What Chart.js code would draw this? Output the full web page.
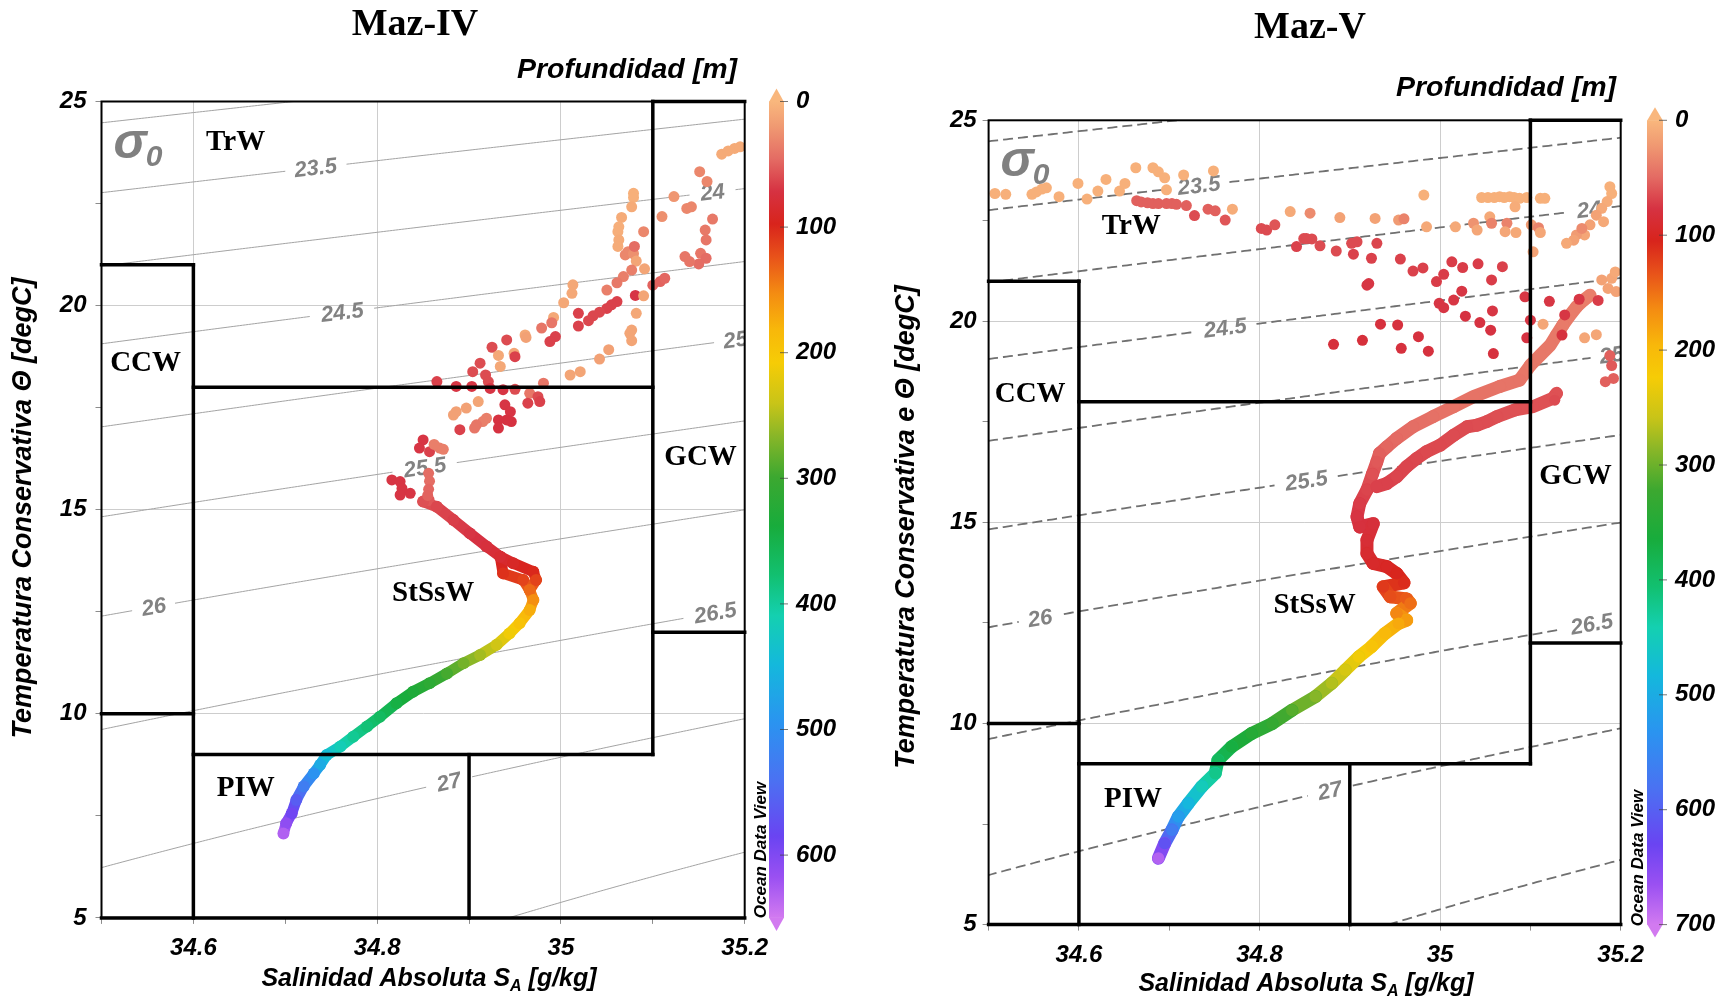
<!DOCTYPE html>
<html>
<head>
<meta charset="utf-8">
<title>Diagramas T-S Maz-IV / Maz-V</title>
<script src="https://cdn.jsdelivr.net/npm/chart.js@4.4.0/dist/chart.umd.min.js"></script>
<style>
  html, body { margin: 0; padding: 0; background: #fff; }
  #wrap { position: relative; width: 1730px; height: 1000px; }
  .panel { position: absolute; top: 0; width: 865px; height: 1000px; }
  .panel canvas { width: 865px; height: 1000px; }
</style>
</head>
<body>
<div id="wrap">
  <div class="panel" style="left:0"><canvas id="maz4" width="865" height="1000"></canvas></div>
  <div class="panel" style="left:865px"><canvas id="maz5" width="865" height="1000"></canvas></div>
</div>
<script>
// ---- data: [SA g/kg, Theta degC, depth m] ----

// Maz-IV: scattered surface samples
const MAZ4_SCATTER = [
  [35.175, 23.71, 8], [35.182, 23.79, 8], [35.189, 23.85, 8], [35.195, 23.89, 8],
  [35.151, 23.28, 30], [35.159, 23.04, 30], [35.123, 22.67, 22], [35.137, 22.38, 30],
  [35.142, 22.42, 30], [35.110, 22.18, 25], [35.165, 22.12, 38], [35.157, 21.85, 38],
  [35.158, 21.61, 40], [35.152, 21.28, 40], [35.158, 21.16, 45], [35.150, 21.02, 45],
  [35.135, 21.20, 40], [35.140, 21.08, 40], [35.100, 20.50, 50], [35.108, 20.59, 50],
  [35.113, 20.67, 48],
  [35.079, 22.75, 5], [35.079, 22.65, 5], [35.077, 22.42, 8], [35.066, 22.16, 8],
  [35.063, 21.93, 6], [35.062, 21.81, 6], [35.063, 21.61, 8], [35.062, 21.45, 8],
  [35.090, 21.81, 30], [35.070, 21.24, 30], [35.073, 21.32, 30], [35.079, 21.27, 25],
  [35.080, 21.45, 45], [35.082, 21.09, 12], [35.091, 20.90, 12], [35.077, 20.87, 35],
  [35.068, 20.71, 35], [35.061, 20.56, 38], [35.050, 20.38, 35], [35.081, 20.25, 70],
  [35.090, 20.24, 12],
  [35.061, 20.10, 65], [35.055, 20.02, 65], [35.050, 19.93, 65], [35.042, 19.84, 62],
  [35.035, 19.75, 62], [35.030, 19.63, 62], [35.019, 19.81, 65], [35.019, 19.50, 65],
  [35.082, 19.81, 10], [35.077, 19.40, 12], [35.075, 19.32, 12], [35.077, 19.14, 12],
  [35.052, 18.92, 15], [35.042, 18.69, 15], [35.021, 18.38, 12], [35.010, 18.30, 12],
  [35.013, 20.51, 10], [35.012, 20.30, 10], [35.003, 20.07, 10], [34.992, 19.71, 10],
  [34.990, 19.58, 40], [34.979, 19.45, 40], [34.994, 19.24, 65], [34.988, 19.12, 65],
  [34.961, 19.28, 10], [34.962, 19.22, 15], [34.941, 19.16, 60], [34.925, 18.98, 60],
  [34.949, 18.83, 12], [34.950, 18.75, 65], [34.932, 18.78, 10], [34.934, 18.51, 10],
  [34.912, 18.59, 60], [34.918, 18.30, 60], [34.921, 18.14, 60], [34.904, 18.38, 60],
  [34.865, 18.14, 65],
  [34.886, 18.02, 70], [34.903, 18.02, 70], [34.923, 17.97, 70], [34.937, 17.94, 70],
  [34.950, 17.95, 60], [34.966, 17.85, 40], [34.975, 17.77, 60], [34.977, 17.65, 65],
  [34.981, 18.10, 40], [34.964, 17.61, 65],
  [34.910, 17.65, 12], [34.897, 17.49, 15], [34.886, 17.40, 15], [34.883, 17.32, 15],
  [34.890, 16.96, 65],
  [34.939, 17.57, 70], [34.945, 17.40, 70], [34.946, 17.16, 72], [34.941, 17.20, 72],
  [34.932, 17.20, 72], [34.932, 17.00, 72],
  [34.919, 17.24, 35], [34.915, 17.16, 35], [34.908, 17.08, 40], [34.906, 17.00, 40],
  [34.850, 16.71, 70], [34.846, 16.51, 70], [34.857, 16.42, 65], [34.868, 16.51, 35],
  [34.872, 16.48, 35], [34.862, 16.60, 35], [34.816, 15.73, 70], [34.825, 15.69, 70],
  [34.836, 15.40, 70], [34.827, 15.52, 70], [34.825, 15.36, 70],
  [34.856, 15.89, 45], [34.857, 15.70, 45], [34.856, 15.50, 48], [34.855, 15.35, 50]
];

// Maz-IV: continuous CTD profile below the mixed layer
const MAZ4_PROFILE = [
  [34.856, 15.24, 55], [34.850, 15.20, 58], [34.865, 15.07, 62], [34.883, 14.75, 66],
  [34.901, 14.42, 70], [34.919, 14.10, 75], [34.934, 13.85, 82], [34.948, 13.69, 90],
  [34.970, 13.48, 100], [34.973, 13.28, 115], [34.966, 13.03, 135], [34.970, 12.79, 155],
  [34.966, 12.54, 175], [34.955, 12.22, 195], [34.944, 11.97, 212], [34.930, 11.69, 235],
  [34.912, 11.44, 255], [34.894, 11.24, 275], [34.876, 10.99, 295], [34.857, 10.75, 315],
  [34.839, 10.54, 330], [34.821, 10.26, 345], [34.803, 9.93, 365], [34.789, 9.69, 380],
  [34.774, 9.44, 395], [34.760, 9.20, 415], [34.745, 8.99, 440], [34.738, 8.75, 465],
  [34.731, 8.54, 495], [34.720, 8.22, 525], [34.712, 7.89, 560], [34.707, 7.56, 590],
  [34.701, 7.32, 610], [34.698, 7.07, 630]
];
const MAZ4_LOOP = [
  [34.934, 13.85, 85], [34.937, 13.44, 105], [34.959, 13.28, 115], [34.966, 13.03, 135]
];

// Maz-V: scattered surface samples
const MAZ5_SCATTER = [
  [34.507, 23.18, 5], [34.519, 23.16, 5], [34.548, 23.16, 5], [34.553, 23.22, 5],
  [34.559, 23.29, 5], [34.564, 23.32, 5], [34.578, 23.10, 5], [34.599, 23.43, 5],
  [34.609, 23.04, 5], [34.621, 23.24, 5], [34.630, 23.53, 5], [34.645, 23.24, 5],
  [34.651, 23.43, 5], [34.663, 23.82, 5], [34.682, 23.82, 5], [34.688, 23.72, 5],
  [34.695, 23.57, 5], [34.697, 23.27, 5], [34.716, 23.64, 5], [34.749, 23.74, 5],
  [34.770, 22.79, 8], [34.834, 22.73, 10],
  [34.664, 23.00, 55], [34.669, 22.97, 55], [34.676, 22.95, 55], [34.682, 22.93, 55],
  [34.688, 22.93, 55], [34.697, 22.93, 55], [34.703, 22.93, 55], [34.708, 22.91, 55],
  [34.719, 22.88, 55], [34.728, 22.63, 65], [34.743, 22.79, 55], [34.751, 22.75, 55],
  [34.762, 22.52, 60], [34.802, 22.31, 65], [34.808, 22.27, 65], [34.817, 22.40, 60],
  [34.841, 21.86, 70], [34.849, 22.06, 65],
  [34.982, 23.14, 5], [35.046, 23.08, 5], [35.053, 23.08, 5], [35.060, 23.08, 5],
  [35.066, 23.10, 5], [35.071, 23.08, 5], [35.077, 23.10, 5], [35.082, 23.08, 5],
  [35.088, 23.06, 5], [35.096, 23.08, 5], [35.083, 22.85, 8], [35.111, 23.06, 5],
  [35.116, 23.06, 5],
  [35.188, 23.35, 5], [35.190, 23.18, 5], [35.185, 22.98, 8], [35.179, 22.81, 10],
  [35.173, 22.64, 15], [35.166, 22.40, 15], [35.160, 22.15, 12], [35.151, 22.15, 20],
  [35.148, 22.02, 15], [35.140, 21.94, 10], [35.181, 22.48, 10], [35.157, 22.31, 30],
  [34.856, 22.69, 30], [34.889, 22.58, 15], [34.928, 22.56, 15], [34.954, 22.52, 20],
  [34.960, 22.55, 35], [34.985, 22.35, 10], [35.017, 22.35, 10], [35.037, 22.44, 25],
  [35.041, 22.27, 12], [35.055, 22.60, 10], [35.057, 22.44, 35], [35.074, 22.44, 35],
  [35.072, 22.23, 12], [35.084, 22.21, 10], [35.101, 22.40, 20], [35.109, 22.33, 35],
  [35.111, 22.21, 12], [35.103, 21.73, 15],
  [34.852, 22.06, 65], [34.858, 22.05, 65], [34.867, 21.88, 65], [34.885, 21.75, 65],
  [34.902, 21.94, 65], [34.908, 21.98, 65], [34.904, 21.67, 70], [34.924, 21.57, 70],
  [34.930, 21.94, 68], [34.919, 20.90, 75], [34.921, 20.94, 75], [34.956, 21.55, 70],
  [34.970, 21.25, 70], [34.981, 21.33, 70], [34.996, 20.99, 72], [35.004, 21.17, 72],
  [35.013, 21.48, 72], [35.025, 21.34, 72], [35.042, 21.43, 72], [35.024, 20.75, 75],
  [35.015, 20.53, 75], [35.004, 20.34, 75], [34.999, 20.45, 75], [35.057, 21.03, 72],
  [35.069, 21.36, 70], [35.094, 20.61, 75], [35.058, 20.26, 75], [35.028, 20.13, 78],
  [35.044, 19.97, 78], [35.056, 19.78, 78], [35.059, 19.20, 80], [34.934, 19.93, 80],
  [34.953, 19.91, 80], [34.976, 19.62, 80], [34.987, 19.26, 80], [34.957, 19.33, 80],
  [34.914, 19.53, 82], [34.882, 19.43, 82], [35.096, 19.59, 78], [35.100, 20.03, 75],
  [35.121, 20.50, 75], [35.154, 20.55, 75], [35.175, 20.52, 72], [35.138, 20.16, 75],
  [35.135, 19.66, 80],
  [35.114, 19.93, 12], [35.160, 19.59, 12], [35.173, 19.67, 12], [35.190, 21.07, 12],
  [35.194, 21.23, 10], [35.179, 21.03, 15], [35.186, 20.82, 15], [35.195, 20.74, 15],
  [35.183, 18.50, 55], [35.192, 18.58, 55], [35.188, 19.15, 55], [35.190, 18.90, 58],
  [35.127, 18.04, 65]
];

// Maz-V: continuous CTD profile
const MAZ5_PROFILE = [
  [35.166, 20.65, 38], [35.159, 20.53, 38], [35.151, 20.36, 40], [35.144, 20.16, 40],
  [35.136, 19.91, 40], [35.129, 19.66, 42], [35.122, 19.41, 42], [35.111, 19.16, 42],
  [35.100, 18.91, 42], [35.088, 18.54, 44], [35.066, 18.38, 44], [35.037, 18.13, 45],
  [35.015, 17.88, 45], [34.992, 17.63, 46], [34.970, 17.38, 48], [34.952, 17.09, 50],
  [34.941, 16.88, 52], [34.933, 16.72, 55], [34.930, 16.51, 58], [34.925, 16.20, 62],
  [34.919, 15.81, 68], [34.911, 15.47, 72], [34.908, 15.14, 76], [34.911, 14.89, 80],
  [34.926, 14.97, 82], [34.919, 14.56, 86], [34.919, 14.23, 90], [34.926, 13.98, 94],
  [34.941, 13.90, 98], [34.952, 13.73, 104], [34.960, 13.50, 110], [34.937, 13.40, 118],
  [34.945, 13.15, 130], [34.963, 13.10, 138], [34.967, 12.99, 148], [34.952, 12.74, 162],
  [34.963, 12.57, 175], [34.954, 12.49, 185], [34.939, 12.24, 198], [34.924, 11.91, 212],
  [34.910, 11.66, 228], [34.895, 11.33, 248], [34.880, 11.00, 268], [34.862, 10.67, 288],
  [34.836, 10.33, 310], [34.814, 10.00, 330], [34.791, 9.75, 348], [34.769, 9.42, 368],
  [34.754, 9.09, 390], [34.751, 8.76, 420], [34.736, 8.43, 450], [34.721, 8.01, 485],
  [34.710, 7.68, 520], [34.703, 7.35, 565], [34.695, 7.02, 615], [34.688, 6.65, 680]
];
// second, slightly deeper branch of the upper thermocline
const MAZ5_BAND = [
  [35.129, 18.21, 62], [35.125, 18.09, 62], [35.103, 17.88, 62], [35.083, 17.80, 62],
  [35.063, 17.63, 63], [35.052, 17.51, 64], [35.041, 17.42, 64], [35.030, 17.38, 65],
  [35.015, 17.17, 65], [35.000, 16.92, 66], [34.985, 16.76, 66], [34.974, 16.59, 67],
  [34.963, 16.39, 68], [34.952, 16.14, 68], [34.941, 15.97, 70], [34.930, 15.89, 70]
];

const DEPTH_TICKS_MAZ4 = [0, 100, 200, 300, 400, 500, 600];
const DEPTH_TICKS_MAZ5 = [0, 100, 200, 300, 400, 500, 600, 700];

// potential density anomaly levels (kg/m3)
const SIGMA_LEVELS = [23, 23.5, 24, 24.5, 25, 25.5, 26, 26.5, 27, 27.5];

// water mass limits: [SA0, T0, SA1, T1]
const WATER_MASS_EDGES = [
  [34.5, 21, 34.6, 21], [34.6, 21, 34.6, 5], [34.5, 10, 34.6, 10],
  [34.6, 18, 35.1, 18], [34.6, 9, 35.1, 9], [35.1, 25, 35.1, 9],
  [35.1, 12, 35.2, 12], [35.1, 25, 35.2, 25], [34.9, 9, 34.9, 5], [34.5, 5, 35.2, 5]
];

// ---- colour scale (ODV rainbow, 0 = surface) ----
const STOPS = [
  [0.00, '#f9b77d'], [0.03, '#f09a72'], [0.07, '#e46c64'], [0.11, '#d63242'],
  [0.15, '#d8241c'], [0.19, '#e8521a'], [0.235, '#f48c12'], [0.28, '#f8b80a'],
  [0.32, '#f6cc06'], [0.37, '#c8c418'], [0.41, '#88b628'], [0.46, '#3ca830'],
  [0.52, '#18ac3c'], [0.58, '#12c070'], [0.63, '#14d0b0'], [0.69, '#14b8dc'],
  [0.76, '#2a94f0'], [0.83, '#4a72f2'], [0.90, '#6a44f2'], [0.95, '#9a50f2'],
  [1.00, '#d27af0']
];

function hexRgb(h) {
  return [1, 3, 5].map(i => parseInt(h.substr(i, 2), 16));
}

function depthColor(z, zmax) {
  const f = Math.min(1, Math.max(0, z / zmax));
  for (let i = 1; i < STOPS.length; i++) {
    if (f <= STOPS[i][0]) {
      const [f0, c0] = STOPS[i - 1], [f1, c1] = STOPS[i];
      const k = (f - f0) / (f1 - f0), a = hexRgb(c0), b = hexRgb(c1);
      return 'rgb(' + a.map((v, j) => Math.round(v + (b[j] - v) * k)).join(',') + ')';
    }
  }
  return STOPS[STOPS.length - 1][1];
}

// EOS-80 density at the surface, SA converted to practical salinity
function sigma0(SA, T) {
  const S = SA / 1.00472, t = T;
  const rw = 999.842594 + 6.793952e-2 * t - 9.095290e-3 * t * t + 1.001685e-4 * t ** 3
    - 1.120083e-6 * t ** 4 + 6.536332e-9 * t ** 5;
  const A = 8.24493e-1 - 4.0899e-3 * t + 7.6438e-5 * t * t - 8.2467e-7 * t ** 3 + 5.3875e-9 * t ** 4;
  const B = -5.72466e-3 + 1.0227e-4 * t - 1.6546e-6 * t * t;
  const C = 4.8314e-4;
  return rw + A * S + B * S ** 1.5 + C * S * S - 1000;
}

// temperature where sigma0 equals the level, by bisection
function isopycnalTemp(SA, level) {
  let lo = -2, hi = 40;
  for (let i = 0; i < 45; i++) {
    const m = (lo + hi) / 2;
    if (sigma0(SA, m) > level) lo = m; else hi = m;
  }
  return (lo + hi) / 2;
}

const SANS = '"Liberation Sans", Arial, sans-serif';
const SERIF = '"Liberation Serif", "Times New Roman", serif';

// salinity where each isopycnal gets its number
const SIGMA_LABEL_SA = {
  23.5: 34.733, 24: 35.165, 24.5: 34.762, 25: 35.19,
  25.5: 34.852, 26: 34.557, 26.5: 35.168, 27: 34.878
};

function drawIsopycnals(chart, cfg) {
  const { ctx, chartArea: a, scales: { x, y } } = chart;
  ctx.save();
  ctx.beginPath();
  ctx.rect(a.left, a.top, a.width, a.height);
  ctx.clip();
  ctx.font = 'italic bold 22px ' + SANS;
  ctx.textAlign = 'center';
  ctx.textBaseline = 'middle';
  SIGMA_LEVELS.forEach(level => {
    const at = SIGMA_LABEL_SA[level];
    let lx = 0, ly = 0, ang = 0, r = 0;
    if (at) {
      lx = x.getPixelForValue(at);
      ly = y.getPixelForValue(isopycnalTemp(at, level));
      const x0 = x.getPixelForValue(at - 0.02), y0 = y.getPixelForValue(isopycnalTemp(at - 0.02, level));
      const x1 = x.getPixelForValue(at + 0.02), y1 = y.getPixelForValue(isopycnalTemp(at + 0.02, level));
      ang = Math.atan2(y1 - y0, x1 - x0);
      r = ctx.measureText(String(level)).width / 2 + 9;
    }
    ctx.strokeStyle = cfg.isoColor;
    ctx.lineWidth = cfg.isoWidth;
    ctx.setLineDash(cfg.isoDash);
    ctx.beginPath();
    let pen = false;
    for (let i = 0; i <= 240; i++) {
      const s = 34.45 + 0.8 * i / 240;
      const px = x.getPixelForValue(s), py = y.getPixelForValue(isopycnalTemp(s, level));
      if (r && Math.hypot(px - lx, py - ly) < r) { pen = false; continue; }
      if (pen) ctx.lineTo(px, py); else ctx.moveTo(px, py);
      pen = true;
    }
    ctx.stroke();
    if (at) {
      ctx.setLineDash([]);
      ctx.save();
      ctx.translate(lx, ly);
      ctx.rotate(ang);
      ctx.fillStyle = '#828282';
      ctx.fillText(String(level), 0, 1);
      ctx.restore();
    }
  });
  ctx.restore();
}

function drawWaterMasses(chart, cfg) {
  const { ctx, chartArea: a, scales: { x, y } } = chart;
  ctx.save();
  ctx.strokeStyle = '#000';
  ctx.lineWidth = 2;
  ctx.strokeRect(a.left, a.top, a.width, a.height);
  ctx.lineWidth = 3.5;
  ctx.lineCap = 'square';
  WATER_MASS_EDGES.forEach(([s0, t0, s1, t1]) => {
    ctx.beginPath();
    ctx.moveTo(x.getPixelForValue(s0), y.getPixelForValue(t0));
    ctx.lineTo(x.getPixelForValue(s1), y.getPixelForValue(t1));
    ctx.stroke();
  });
  ctx.fillStyle = '#000';
  ctx.font = 'bold 29px ' + SERIF;
  ctx.textAlign = 'center';
  ctx.textBaseline = 'middle';
  cfg.massLabels.forEach(([name, s, t]) => {
    ctx.fillText(name, x.getPixelForValue(s), y.getPixelForValue(t));
  });
  // sigma-0 tag in the upper-left corner
  ctx.fillStyle = '#808080';
  ctx.textAlign = 'left';
  ctx.textBaseline = 'alphabetic';
  ctx.font = 'italic bold 50px ' + SANS;
  ctx.fillText('σ', a.left + 12, a.top + 56);
  const w = ctx.measureText('σ').width;
  ctx.font = 'italic bold 30px ' + SANS;
  ctx.fillText('0', a.left + 11 + w, a.top + 64);
  ctx.restore();
}

function drawFurniture(chart, cfg) {
  const { ctx, chartArea: a } = chart;
  ctx.save();
  ctx.fillStyle = '#000';

  // title
  ctx.font = 'bold 38px ' + SERIF;
  ctx.textAlign = 'center';
  ctx.textBaseline = 'middle';
  ctx.fillText(cfg.title, cfg.titleAt[0], cfg.titleAt[1]);

  // depth colour bar with end arrows
  const cb = cfg.colorbar;
  const grad = ctx.createLinearGradient(0, a.top, 0, a.bottom);
  STOPS.forEach(([f, c]) => grad.addColorStop(f, c));
  ctx.fillStyle = grad;
  ctx.fillRect(cb.x, a.top, cb.w, a.bottom - a.top);
  ctx.fillStyle = STOPS[0][1];
  ctx.beginPath();
  ctx.moveTo(cb.x, a.top + 0.5);
  ctx.lineTo(cb.x + cb.w, a.top + 0.5);
  ctx.lineTo(cb.x + cb.w / 2, a.top - 13);
  ctx.closePath();
  ctx.fill();
  ctx.fillStyle = STOPS[STOPS.length - 1][1];
  ctx.beginPath();
  ctx.moveTo(cb.x, a.bottom - 0.5);
  ctx.lineTo(cb.x + cb.w, a.bottom - 0.5);
  ctx.lineTo(cb.x + cb.w / 2, a.bottom + 13);
  ctx.closePath();
  ctx.fill();

  ctx.font = 'italic bold 24px ' + SANS;
  ctx.textAlign = 'left';
  ctx.textBaseline = 'middle';
  ctx.strokeStyle = 'rgba(60,60,60,0.7)';
  ctx.lineWidth = 1;
  cb.ticks.forEach(t => {
    const py = a.top + (t / cb.max) * (a.bottom - a.top);
    ctx.beginPath();
    ctx.moveTo(cb.x + cb.w - 4, py);
    ctx.lineTo(cb.x + cb.w + 4, py);
    ctx.stroke();
    ctx.fillStyle = '#000';
    ctx.fillText(String(t), cb.x + cb.w + 12, py);
  });

  ctx.font = 'italic bold 28.5px ' + SANS;
  ctx.textAlign = 'right';
  ctx.fillText('Profundidad [m]', cfg.depthTitleAt[0], cfg.depthTitleAt[1]);

  // credit along the colour bar
  ctx.save();
  ctx.translate(cfg.odvAt[0], cfg.odvAt[1]);
  ctx.rotate(-Math.PI / 2);
  ctx.font = 'italic bold 17px ' + SANS;
  ctx.textAlign = 'center';
  ctx.fillText('Ocean Data View', 0, 0);
  ctx.restore();

  // y axis title
  ctx.save();
  ctx.translate(cfg.yTitleAt[0], cfg.yTitleAt[1]);
  ctx.rotate(-Math.PI / 2);
  ctx.font = 'italic bold 27px ' + SANS;
  ctx.textAlign = 'center';
  ctx.fillText(cfg.yTitle, 0, 0);
  ctx.restore();

  // x axis title with subscript A
  const main = 'italic bold 25px ' + SANS, sub = 'italic bold 16px ' + SANS;
  const p1 = 'Salinidad Absoluta S', p3 = ' [g/kg]';
  ctx.textAlign = 'left';
  ctx.textBaseline = 'alphabetic';
  ctx.font = main;
  const w1 = ctx.measureText(p1).width, w3 = ctx.measureText(p3).width;
  ctx.font = sub;
  const w2 = ctx.measureText('A').width;
  const sx = cfg.xTitleAt[0] - (w1 + w2 + w3) / 2;
  const by = cfg.xTitleAt[1] + 9;
  ctx.font = main;
  ctx.fillText(p1, sx, by);
  ctx.font = sub;
  ctx.fillText('A', sx + w1, by + 5);
  ctx.font = main;
  ctx.fillText(p3, sx + w1 + w2, by);
  ctx.restore();
}

function isMajorX(v) { return Math.round(v * 10) % 2 === 0; }
function isMajorY(v) { return Math.round(v * 2) % 10 === 0; }

function buildChart(id, cfg) {
  const W = 865, H = 1000, area = cfg.area, zmax = cfg.colorbar.max;
  const pts = rows => rows.map(r => ({ x: r[0], y: r[1] }));
  const cols = rows => rows.map(r => depthColor(r[2], zmax));
  const profile = (rows, width) => ({
    data: pts(rows),
    showLine: true,
    borderWidth: width,
    borderColor: depthColor(rows[0][2], zmax),
    borderCapStyle: 'round',
    borderJoinStyle: 'round',
    segment: {
      borderColor: c => depthColor((rows[c.p0DataIndex][2] + rows[c.p1DataIndex][2]) / 2, zmax)
    },
    pointRadius: 6,
    pointBorderWidth: 0,
    pointBackgroundColor: cols(rows)
  });

  const datasets = [
    { data: pts(cfg.scatter), pointRadius: 5.5, pointBorderWidth: 0, pointBackgroundColor: cols(cfg.scatter) }
  ].concat(cfg.profiles.map(p => profile(p, cfg.lineWidth)));

  const tickFont = { family: SANS, size: 24, style: 'italic', weight: 'bold' };
  const decor = {
    id: 'decor' + id,
    beforeDatasetsDraw: chart => drawIsopycnals(chart, cfg),
    afterDatasetsDraw: chart => drawWaterMasses(chart, cfg),
    afterDraw: chart => drawFurniture(chart, cfg)
  };

  return new Chart(document.getElementById(id), {
    type: 'scatter',
    data: { datasets },
    options: {
      responsive: false,
      animation: false,
      layout: { padding: { left: 0, top: area.top, right: W - area.right, bottom: H - area.bottom - 55 } },
      plugins: { legend: { display: false }, tooltip: { enabled: false } },
      scales: {
        x: {
          type: 'linear', min: 34.5, max: 35.2,
          afterFit: s => { s.height = 55; },
          border: { display: false },
          grid: {
            color: c => (isMajorX(c.tick.value) ? '#cdcdcd' : 'rgba(0,0,0,0)'),
            tickColor: '#8c8c8c', tickLength: 6, lineWidth: 1
          },
          ticks: {
            stepSize: 0.1, autoSkip: false, maxRotation: 0, padding: 10,
            color: '#000', font: tickFont,
            callback: v => (isMajorX(v) ? String(Math.round(v * 10) / 10) : '')
          }
        },
        y: {
          type: 'linear', min: 5, max: 25,
          afterFit: s => { s.width = area.left; },
          border: { display: false },
          grid: {
            color: c => (isMajorY(c.tick.value) ? '#cdcdcd' : 'rgba(0,0,0,0)'),
            tickColor: '#8c8c8c', tickLength: 6, lineWidth: 1
          },
          ticks: {
            stepSize: 2.5, autoSkip: false, padding: cfg.yTickPad,
            color: '#000', font: tickFont,
            callback: v => (isMajorY(v) ? String(v) : '')
          }
        }
      }
    },
    plugins: [decor]
  });
}

buildChart('maz4', {
  title: 'Maz-IV',
  titleAt: [415, 25],
  area: { left: 101.5, right: 744.7, top: 101.5, bottom: 917.9 },
  yTickPad: 9,
  scatter: MAZ4_SCATTER,
  profiles: [MAZ4_PROFILE, MAZ4_LOOP],
  lineWidth: 11,
  isoColor: '#a3a3a3', isoWidth: 1, isoDash: [],
  massLabels: [['TrW', 34.646, 24.0], ['CCW', 34.548, 18.57], ['GCW', 35.152, 16.27],
               ['StSsW', 34.861, 12.94], ['PIW', 34.657, 8.16]],
  colorbar: { x: 769, w: 15, max: 650, ticks: DEPTH_TICKS_MAZ4 },
  depthTitleAt: [737, 70],
  odvAt: [761, 850],
  yTitle: 'Temperatura Conservativa Θ [degC]',
  yTitleAt: [24, 508],
  xTitleAt: [429, 977]
});

buildChart('maz5', {
  title: 'Maz-V',
  titleAt: [445, 28],
  area: { left: 123.6, right: 755.7, top: 120.3, bottom: 924.6 },
  yTickPad: 6,
  scatter: MAZ5_SCATTER,
  profiles: [MAZ5_BAND, MAZ5_PROFILE],
  lineWidth: 13,
  isoColor: '#707070', isoWidth: 1.8, isoDash: [10, 5],
  massLabels: [['TrW', 34.658, 22.37], ['CCW', 34.546, 18.19], ['GCW', 35.15, 16.14],
               ['StSsW', 34.861, 12.93], ['PIW', 34.66, 8.1]],
  colorbar: { x: 782, w: 16, max: 700, ticks: DEPTH_TICKS_MAZ5 },
  depthTitleAt: [751, 88],
  odvAt: [773, 858],
  yTitle: 'Temperatura Conservativa e Θ [degC]',
  yTitleAt: [42, 527],
  xTitleAt: [441, 982]
});
</script>
</body>
</html>
